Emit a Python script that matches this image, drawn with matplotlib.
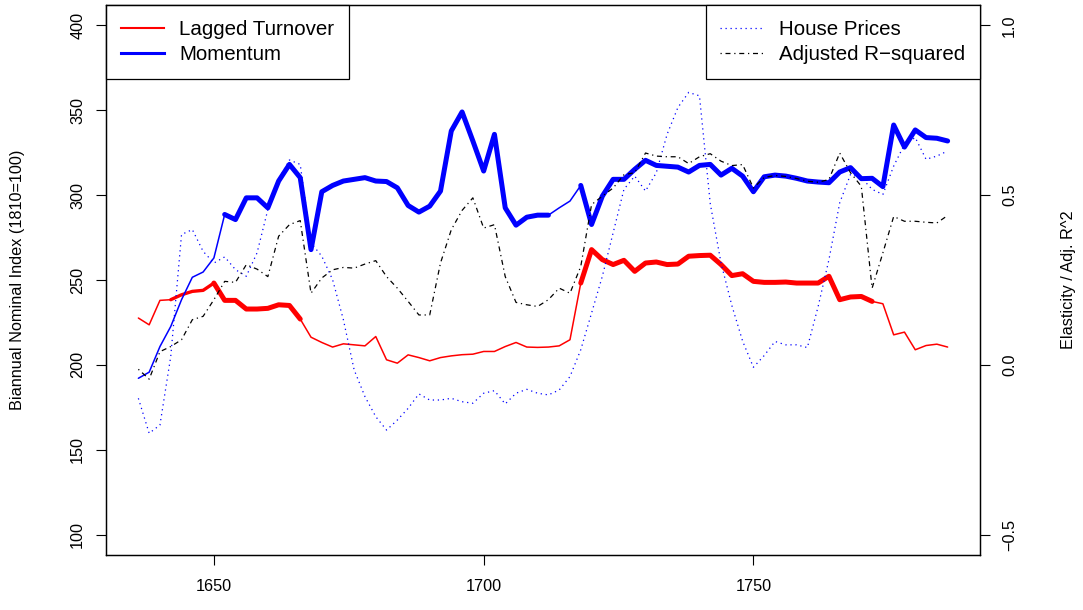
"""Lagged turnover vs momentum, house prices and adjusted R^2 (biannual)."""

import numpy as np
import matplotlib
matplotlib.use("Agg")
import matplotlib.pyplot as plt
from matplotlib.lines import Line2D

plt.rcParams['font.family'] = ['Liberation Sans', 'DejaVu Sans']

# Data ------------------------------------------------------------------------
years = np.arange(1636, 1787, 2)

turnover = [227.6, 223.6, 238.0, 238.4, 241.3, 243.3, 243.9, 248.2, 238.0, 238.0,
            232.9, 232.9, 233.3, 235.4, 235.0, 227.0, 216.3, 213.2, 210.5, 212.4,
            211.8, 211.2, 216.7, 203.0, 201.0, 205.9, 204.3, 202.4, 204.3, 205.3,
            206.0, 206.3, 207.9, 207.9, 210.8, 213.2, 210.5, 210.3, 210.5, 211.2,
            214.8, 248.2, 267.9, 262.0, 259.1, 261.6, 255.1, 260.0, 260.6, 259.1,
            259.4, 264.0, 264.4, 264.6, 259.1, 252.6, 253.7, 249.2, 248.6, 248.6,
            248.8, 248.2, 248.2, 248.2, 252.2, 238.4, 240.0, 240.3, 237.4, 236.0,
            217.7, 219.3, 208.9, 211.4, 212.2, 210.5]

momentum = [192.1, 195.7, 210.8, 222.6, 238.4, 251.6, 254.7, 263.0, 288.6, 285.6,
            298.4, 298.4, 292.5, 308.3, 318.1, 310.3, 267.9, 302.0, 305.7, 308.3,
            309.3, 310.3, 308.3, 308.0, 304.3, 293.9, 290.0, 293.5, 302.4, 337.8,
            349.0, 331.9, 314.2, 335.8, 292.5, 282.3, 287.0, 288.2, 288.2, 292.5,
            296.5, 305.7, 282.7, 299.4, 309.3, 309.3, 315.2, 320.5, 317.5, 317.0,
            316.5, 313.6, 317.5, 318.1, 311.8, 315.8, 311.2, 302.0, 310.8, 311.8,
            311.2, 309.9, 308.3, 307.7, 307.3, 313.6, 316.2, 309.7, 309.9, 305.0,
            341.3, 328.3, 338.4, 333.9, 333.5, 331.9]

house = [180.3, 159.7, 164.6, 204.9, 276.8, 279.7, 266.9, 260.0, 263.6, 256.1,
         252.2, 266.0, 291.5, 309.3, 320.7, 318.1, 271.9, 264.0, 250.2, 226.6,
         197.0, 181.3, 169.5, 161.6, 167.5, 174.4, 182.9, 179.3, 179.3, 180.3,
         178.3, 177.4, 183.3, 184.8, 177.0, 183.3, 185.6, 183.3, 182.3, 185.2,
         193.1, 208.9, 230.5, 252.2, 277.8, 303.4, 311.2, 302.4, 313.2, 335.8,
         351.6, 360.5, 358.5, 295.0, 260.0, 235.0, 214.0, 198.6, 205.5, 213.8,
         211.8, 211.8, 210.2, 234.4, 262.0, 295.5, 312.2, 310.3, 303.4, 300.4,
         317.1, 329.9, 333.9, 321.1, 323.0, 326.0]

adj_r2 = [-0.013, -0.042, 0.039, 0.054, 0.074, 0.133, 0.143, 0.192, 0.246, 0.243,
          0.295, 0.282, 0.260, 0.379, 0.413, 0.425, 0.211, 0.256, 0.280, 0.287,
          0.285, 0.297, 0.307, 0.260, 0.226, 0.187, 0.147, 0.147, 0.300, 0.398,
          0.455, 0.492, 0.403, 0.413, 0.260, 0.184, 0.177, 0.172, 0.192, 0.226,
          0.211, 0.290, 0.472, 0.497, 0.521, 0.560, 0.566, 0.624, 0.615, 0.613,
          0.613, 0.593, 0.613, 0.622, 0.600, 0.587, 0.590, 0.521, 0.552, 0.558,
          0.555, 0.549, 0.541, 0.538, 0.546, 0.624, 0.566, 0.526, 0.226, 0.330,
          0.437, 0.423, 0.423, 0.420, 0.418, 0.440]

# significance level of the segment starting at each point (0 = none)
turnover_sig = [0] * 3 + [1] * 4 + [2] * 8 + [0] * 26 + [2] * 27 + [0] * 8
momentum_sig = [0] * 8 + [2] * 30 + [0] * 3 + [2] * 35

LW = {0: 1.1, 1: 2.4, 2: 3.6}


def draw_weighted(ax, x, y, sig, color, z):
    """Draw a line whose width changes with significance, run by run."""
    start = 0
    n = len(x)
    for i in range(1, n - 1):
        if sig[i] != sig[start]:
            ax.plot(x[start:i + 1], y[start:i + 1], color=color, lw=LW[sig[start]],
                    solid_joinstyle="round", solid_capstyle="round", zorder=z)
            start = i
    ax.plot(x[start:], y[start:], color=color, lw=LW[sig[start]],
            solid_joinstyle="round", solid_capstyle="round", zorder=z)


# =============================================================================
W, H = 1083, 610
fig = plt.figure(figsize=(W / 100, H / 100), dpi=100)
ax = fig.add_axes([106 / W, 55 / H, 874 / W, 550 / H])

draw_weighted(ax, years, turnover, turnover_sig, "red", 3)
draw_weighted(ax, years, momentum, momentum_sig, "blue", 4)
ax.plot(years, house, color="blue", lw=0.9, dashes=(1, 3), zorder=5)

ax.set_xlim(1630, 1792)
ax.set_ylim(88, 412)
ax.set_xticks([1650, 1700, 1750])
ax.set_yticks(np.arange(100, 401, 50))
ax.set_yticklabels([str(v) for v in range(100, 401, 50)], rotation=90, va="center")
ax.tick_params(axis="both", length=7, width=0.8, labelsize=11.7, color="black")
ax.tick_params(axis="x", pad=10)
ax.tick_params(axis="y", pad=8)
for sp in ax.spines.values():
    sp.set_linewidth(0.9)

ax2 = ax.twinx()
ax2.plot(years, adj_r2, color="black", lw=0.9, dashes=(1, 3, 4, 3), zorder=6)
ax2.set_ylim(-0.56, 1.06)
ax2.set_yticks([-0.5, 0.0, 0.5, 1.0])
ax2.set_yticklabels(["\u22120.5", "0.0", "0.5", "1.0"], rotation=90, va="center")
ax2.tick_params(axis="y", length=7, width=0.8, labelsize=11.7, pad=9)
for sp in ax2.spines.values():
    sp.set_linewidth(0.9)

fig.text(18 / W, 1 - 280 / H, "Biannual Nominal Index (1810=100)", rotation=90,
         ha="center", va="center", fontsize=11.7)
fig.text(1068 / W, 1 - 280 / H, "Elasticity / Adj. R^2", rotation=90,
         ha="center", va="center", fontsize=11.7)

leg_kw = dict(frameon=True, fancybox=False, edgecolor="black", framealpha=1,
              fontsize=14.8, handlelength=2.1, handletextpad=0.75, borderpad=0.72,
              labelspacing=0.3, borderaxespad=0)

h1 = [Line2D([], [], color="red", lw=1.5), Line2D([], [], color="blue", lw=2.2)]
leg1 = ax.legend(h1, ["Lagged Turnover", "Momentum"], loc="upper left", **leg_kw)
leg1.get_frame().set_linewidth(0.9)

h2 = [Line2D([], [], color="blue", lw=0.9, dashes=(1, 3)),
      Line2D([], [], color="black", lw=0.9, dashes=(1, 3, 4, 3))]
leg2 = ax2.legend(h2, ["House Prices", "Adjusted R\u2212squared"], loc="upper right", **leg_kw)
leg2.get_frame().set_linewidth(0.9)

fig.savefig("out.png", dpi=100)
